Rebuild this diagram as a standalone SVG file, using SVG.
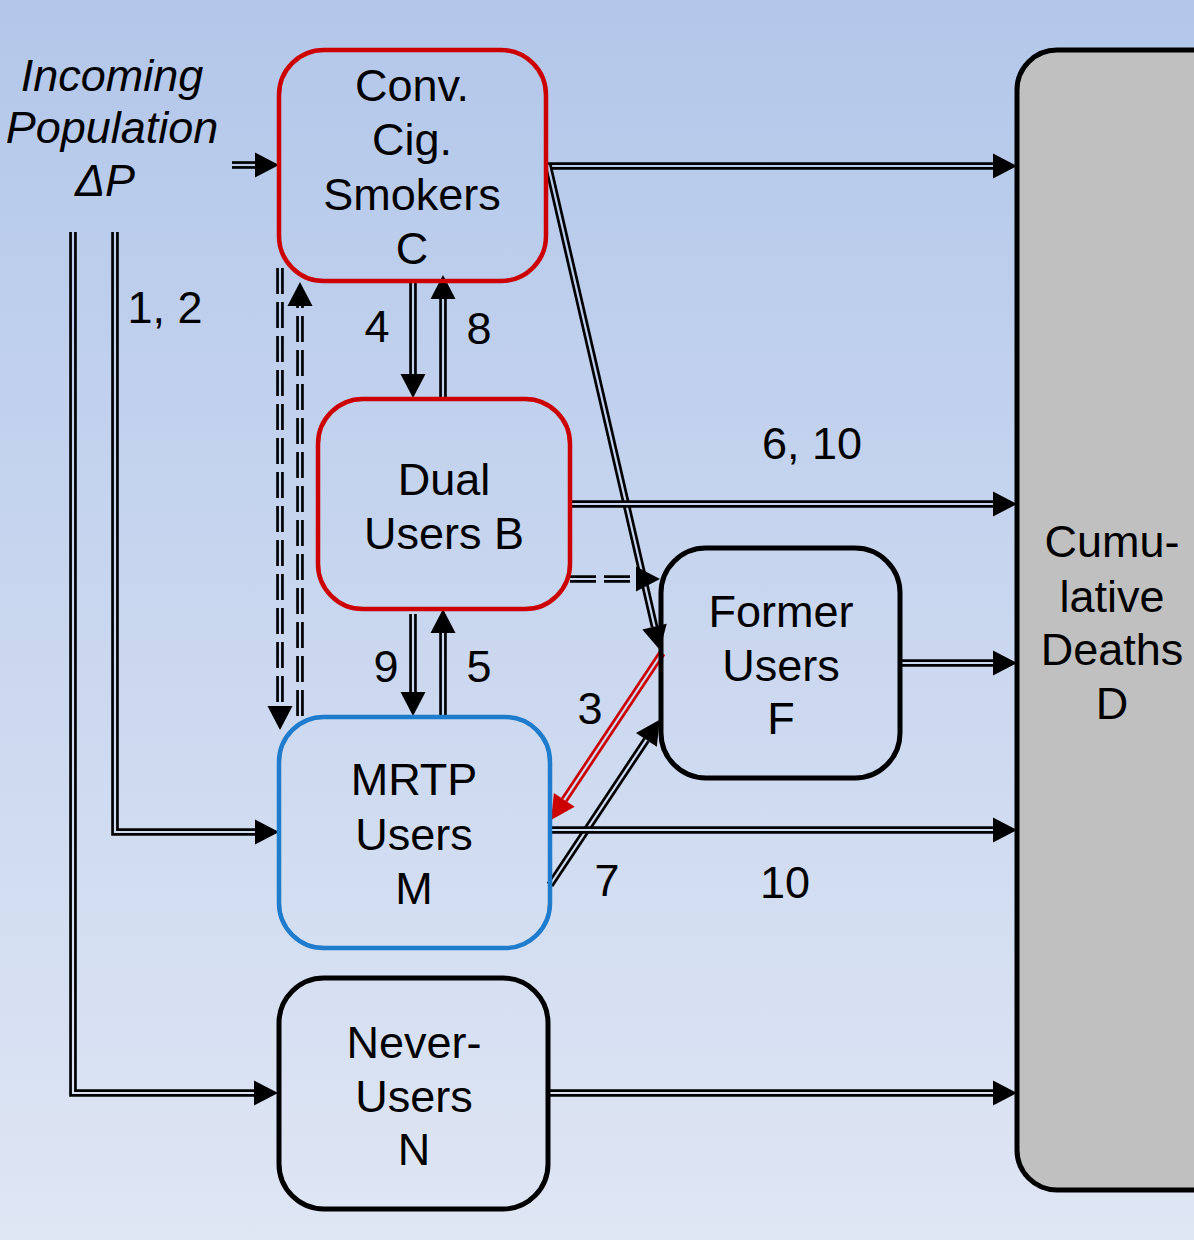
<svg xmlns="http://www.w3.org/2000/svg" width="1194" height="1240" viewBox="0 0 1194 1240">
  <defs>
    <linearGradient id="bg" gradientUnits="userSpaceOnUse" x1="0" y1="0" x2="0" y2="1240">
      <stop offset="0" stop-color="#b3c7ea"/>
      <stop offset="1" stop-color="#dfe6f4"/>
    </linearGradient>
    <marker id="ah" markerUnits="userSpaceOnUse" markerWidth="26" markerHeight="26" refX="0" refY="12.5" orient="auto" overflow="visible">
      <path d="M0,0 L24,12.5 L0,25 Z" fill="#000"/>
    </marker>
    <marker id="ahr" markerUnits="userSpaceOnUse" markerWidth="26" markerHeight="26" refX="0" refY="12.5" orient="auto" overflow="visible">
      <path d="M0,0 L24,12.5 L0,25 Z" fill="#cc0000"/>
    </marker>
  </defs>
  <style>
    .t { font-family: "Liberation Sans", Arial, sans-serif; font-size: 45px; fill: #000; text-anchor: middle; }
    .it { font-style: italic; }
    .box { fill: none; stroke-width: 4.5; }
    .red { stroke: #cc0000; }
    .blue { stroke: #1f7bcc; }
    .blk { stroke: #000; stroke-width: 5; }
    .o { fill: none; stroke: #000; stroke-width: 7.6; stroke-linejoin: miter; }
    .or { fill: none; stroke: #cc0000; stroke-width: 7.6; }
    .dash { stroke-dasharray: 26 8; }
    .i { fill: none; stroke: url(#bg); stroke-width: 2.2; stroke-linejoin: miter; }
  </style>

  <rect x="0" y="0" width="1194" height="1240" fill="url(#bg)"/>

  <!-- connectors: black outer stroke + thin background-coloured core gives the double line -->
  <g id="connectors">
    <!-- incoming population -> C -->
    <path class="o" d="M232,165 H255" marker-end="url(#ah)"/>
    <path class="i" d="M232,165 H255"/>
    <!-- incoming population -> M -->
    <path class="o" d="M115,232 V832 H255" marker-end="url(#ah)"/>
    <path class="i" d="M115,232 V832 H255"/>
    <!-- incoming population -> N -->
    <path class="o" d="M73,232 V1093 H254" marker-end="url(#ah)"/>
    <path class="i" d="M73,232 V1093 H254"/>

    <!-- C -> D -->
    <path class="o" d="M546,166 H993" marker-end="url(#ah)"/>
    <path class="i" d="M546,166 H993"/>
    <!-- C -> F -->
    <path class="o" d="M548,165 L654.5,626.6" marker-end="url(#ah)"/>
    <path class="i" d="M548,165 L654.5,626.6"/>

    <!-- C -> B (4) -->
    <path class="o" d="M413,283 V374" marker-end="url(#ah)"/>
    <path class="i" d="M413,283 V374"/>
    <!-- B -> C (8) -->
    <path class="o" d="M443,398 V299" marker-end="url(#ah)"/>
    <path class="i" d="M443,398 V299"/>

    <!-- C -> M dashed -->
    <path class="o dash" d="M280,268 V706" marker-end="url(#ah)"/>
    <path class="i" d="M280,268 V706"/>
    <!-- M -> C dashed -->
    <path class="o dash" d="M300,716 V306" marker-end="url(#ah)"/>
    <path class="i" d="M300,716 V306"/>

    <!-- B -> D (6, 10) -->
    <path class="o" d="M570,504 H993" marker-end="url(#ah)"/>
    <path class="i" d="M570,504 H993"/>
    <!-- B -> F dashed -->
    <path class="o dash" d="M570,579 H636" marker-end="url(#ah)"/>
    <path class="i" d="M570,579 H636"/>

    <!-- B -> M (9) -->
    <path class="o" d="M413,614 V692" marker-end="url(#ah)"/>
    <path class="i" d="M413,614 V692"/>
    <!-- M -> B (5) -->
    <path class="o" d="M443,716 V633" marker-end="url(#ah)"/>
    <path class="i" d="M443,716 V633"/>

    <!-- F -> D -->
    <path class="o" d="M900,663 H993" marker-end="url(#ah)"/>
    <path class="i" d="M900,663 H993"/>

    <!-- F -> M (3) -->
    <path class="or" d="M662,653 L564.3,799.9" marker-end="url(#ahr)"/>
    <path class="i" d="M662,653 L564.3,799.9"/>
    <!-- M -> F (7) -->
    <path class="o" d="M550,885 L646.4,739.8" marker-end="url(#ah)"/>
    <path class="i" d="M550,885 L646.4,739.8"/>

    <!-- M -> D (10) -->
    <path class="o" d="M550,830 H993" marker-end="url(#ah)"/>
    <path class="i" d="M550,830 H993"/>
    <!-- N -> D -->
    <path class="o" d="M548,1093 H993" marker-end="url(#ah)"/>
    <path class="i" d="M548,1093 H993"/>
  </g>

  <!-- flow labels -->
  <g id="labels">
    <text class="t" x="165" y="323">1, 2</text>
    <text class="t" x="377" y="342">4</text>
    <text class="t" x="479" y="344">8</text>
    <text class="t" x="812" y="459">6, 10</text>
    <text class="t" x="386" y="682">9</text>
    <text class="t" x="479" y="682">5</text>
    <text class="t" x="590" y="724">3</text>
    <text class="t" x="607" y="896">7</text>
    <text class="t" x="785" y="898">10</text>
  </g>

  <g id="incoming">
    <text class="t it" x="112" y="91">Incoming</text>
    <text class="t it" x="112" y="143">Population</text>
    <text class="t it" x="105" y="196">ΔP</text>
  </g>

  <g id="node-C">
    <rect class="box red" x="279" y="50" width="267" height="231" rx="45"/>
    <text class="t" x="412" y="101">Conv.</text>
    <text class="t" x="412" y="155">Cig.</text>
    <text class="t" x="412" y="210">Smokers</text>
    <text class="t" x="412" y="264">C</text>
  </g>

  <g id="node-B">
    <rect class="box red" x="318" y="399" width="252" height="210" rx="45"/>
    <text class="t" x="444" y="495">Dual</text>
    <text class="t" x="444" y="549">Users B</text>
  </g>

  <g id="node-F">
    <rect class="box blk" x="661" y="548" width="239" height="230" rx="45"/>
    <text class="t" x="781" y="627">Former</text>
    <text class="t" x="781" y="681">Users</text>
    <text class="t" x="781" y="734">F</text>
  </g>

  <g id="node-M">
    <rect class="box blue" x="279" y="717" width="271" height="231" rx="45"/>
    <text class="t" x="414" y="795">MRTP</text>
    <text class="t" x="414" y="850">Users</text>
    <text class="t" x="414" y="904">M</text>
  </g>

  <g id="node-N">
    <rect class="box blk" x="279" y="978" width="269" height="231" rx="45"/>
    <text class="t" x="414" y="1058">Never-</text>
    <text class="t" x="414" y="1112">Users</text>
    <text class="t" x="414" y="1165">N</text>
  </g>

  <g id="node-D">
    <rect x="1017" y="50" width="220" height="1140" rx="40" fill="#c0c0c0" stroke="#000" stroke-width="5"/>
    <text class="t" x="1112" y="557">Cumu-</text>
    <text class="t" x="1112" y="612">lative</text>
    <text class="t" x="1112" y="665">Deaths</text>
    <text class="t" x="1112" y="719">D</text>
  </g>
</svg>
